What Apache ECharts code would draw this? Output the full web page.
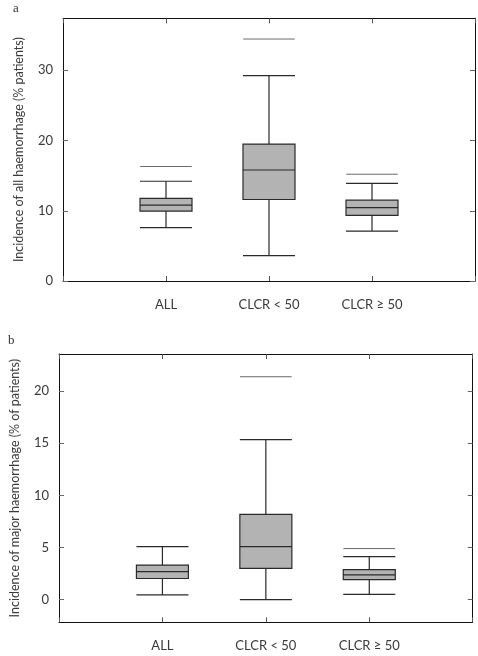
<!DOCTYPE html>
<html>
<head>
<meta charset="utf-8">
<script src="https://cdn.jsdelivr.net/npm/echarts@6/dist/echarts.min.js"></script>
<style>
html,body{margin:0;padding:0;background:#fff;}
#chart{width:478px;height:656px;}
</style>
</head>
<body>
<div id="chart"></div>
<script>
var categories = ['', 'ALL', 'CLCR < 50', 'CLCR \u2265 50', ''];
var groups = ['ALL', 'CLCR < 50', 'CLCR \u2265 50'];

// Panel a: all haemorrhage
var aLow = [7.6, 3.6, 7.1];
var aQ1 = [9.95, 11.6, 9.35];
var aMed = [10.8, 15.8, 10.45];
var aQ3 = [11.75, 19.5, 11.5];
var aHigh = [14.2, 29.25, 13.9];
var aExtra = [16.3, 34.45, 15.2];
var aTicks = [0, 10, 20, 30];

// Panel b: major haemorrhage
var bLow = [0.45, 0.0, 0.5];
var bQ1 = [2.03, 3.0, 1.92];
var bMed = [2.68, 5.08, 2.37];
var bQ3 = [3.32, 8.18, 2.88];
var bHigh = [5.08, 15.35, 4.12];
var bExtra = [null, 21.37, 4.9];
var bTicks = [0, 5, 10, 15, 20];

function boxData(lo, q1, med, q3, hi) {
  return groups.map(function (g, i) { return [g, lo[i], q1[i], med[i], q3[i], hi[i]]; });
}
function extraData(ex) {
  var out = [];
  groups.forEach(function (g, i) { if (ex[i] != null) out.push([g, ex[i]]); });
  return out;
}

var FONT = 'Lato';
var TXT = '#3a3a3a';

function xAxes(gi, margin) {
  return [{
    type: 'category', gridIndex: gi, data: categories, boundaryGap: false, position: 'bottom',
    axisLine: {onZero: false, lineStyle: {color: '#111', width: 1}},
    axisTick: {inside: true, length: 5, lineStyle: {color: '#555'}},
    axisLabel: {color: TXT, fontFamily: FONT, fontSize: 13, margin: margin},
    splitLine: {show: false}
  }, {
    type: 'category', gridIndex: gi, data: categories, boundaryGap: false, position: 'top',
    axisLine: {onZero: false, lineStyle: {color: '#111', width: 1}},
    axisTick: {inside: true, length: 5, lineStyle: {color: '#555'}},
    axisLabel: {show: false}, splitLine: {show: false}
  }];
}
function yAxes(gi, min, max, ticks, name, nameGap) {
  return [{
    type: 'value', gridIndex: gi, min: min, max: max, position: 'left',
    name: name, nameLocation: 'middle', nameGap: nameGap,
    nameTextStyle: {color: TXT, fontFamily: FONT, fontSize: 12.5},
    axisLine: {show: true, onZero: false, lineStyle: {color: '#111', width: 1}},
    axisTick: {show: true, inside: true, length: 5, customValues: ticks, lineStyle: {color: '#666'}},
    axisLabel: {color: TXT, fontFamily: FONT, fontSize: 13, margin: 10, customValues: ticks},
    splitLine: {show: false}
  }, {
    type: 'value', gridIndex: gi, min: min, max: max, position: 'right',
    axisLine: {show: true, onZero: false, lineStyle: {color: '#111', width: 1}},
    axisTick: {show: true, inside: true, length: 5, customValues: ticks, lineStyle: {color: '#666'}},
    axisLabel: {show: false}, splitLine: {show: false}
  }];
}

function extraLine(params, api) {
  var p = api.coord([api.value(0), api.value(1)]);
  var w = api.size([1, 0])[0] * 0.5;
  return {
    type: 'line',
    shape: {x1: p[0] - w / 2, y1: p[1], x2: p[0] + w / 2, y2: p[1]},
    style: {stroke: '#6a6a6a', lineWidth: 1}
  };
}

var option = {
  animation: false,
  backgroundColor: '#fff',
  graphic: [
    {type: 'text', left: 13, top: 2, style: {text: 'a', fontFamily: 'Liberation Serif', fontSize: 13, fill: '#333'}},
    {type: 'text', left: 8, top: 334, style: {text: 'b', fontFamily: 'Liberation Serif', fontSize: 13, fill: '#333'}}
  ],
  grid: [
    {left: 63, right: 2.5, top: 18.3, bottom: 375},
    {left: 56.3, right: 5.3, top: 354, bottom: 33.7}
  ],
  xAxis: xAxes(0, 17).concat(xAxes(1, 17)),
  yAxis: yAxes(0, 0, 37.4, aTicks, 'Incidence of all haemorrhage (% patients)', 38)
    .concat(yAxes(1, -2.17, 23.55, bTicks, 'Incidence of major haemorrhage (% of patients)', 38)),
  series: [
    {
      type: 'boxplot', xAxisIndex: 0, yAxisIndex: 0, boxWidth: [52, 52],
      encode: {x: 0, y: [1, 2, 3, 4, 5]},
      data: boxData(aLow, aQ1, aMed, aQ3, aHigh),
      itemStyle: {color: '#b3b3b3', borderColor: '#2a2a2a', borderWidth: 1.2}
    },
    {
      type: 'custom', xAxisIndex: 0, yAxisIndex: 0, renderItem: extraLine,
      encode: {x: 0, y: 1}, data: extraData(aExtra)
    },
    {
      type: 'boxplot', xAxisIndex: 2, yAxisIndex: 2, boxWidth: [52, 52],
      encode: {x: 0, y: [1, 2, 3, 4, 5]},
      data: boxData(bLow, bQ1, bMed, bQ3, bHigh),
      itemStyle: {color: '#b3b3b3', borderColor: '#2a2a2a', borderWidth: 1.2}
    },
    {
      type: 'custom', xAxisIndex: 2, yAxisIndex: 2, renderItem: extraLine,
      encode: {x: 0, y: 1}, data: extraData(bExtra)
    }
  ]
};

var chart = echarts.init(document.getElementById('chart'), null, {renderer: 'canvas'});
chart.setOption(option);
</script>
</body>
</html>
